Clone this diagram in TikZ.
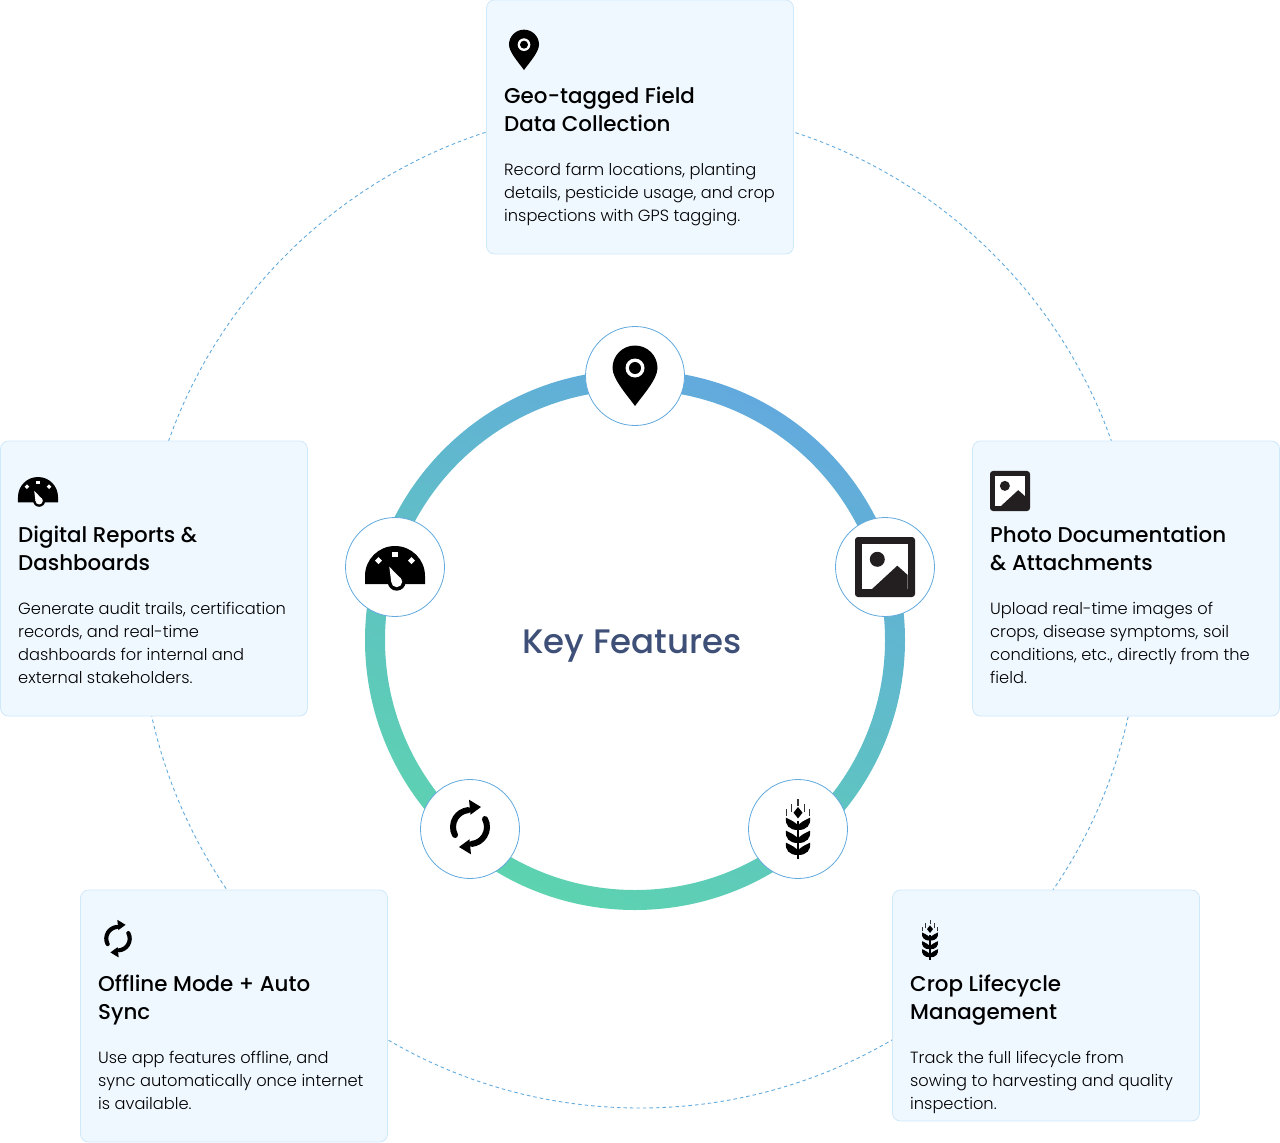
\documentclass[tikz,border=0pt]{standalone}
\usepackage{fontspec}
\setmainfont{Poppins Light}
\newfontfamily\headfont{Poppins Medium}
\usetikzlibrary{shadings}

\definecolor{ringblue}{HTML}{62AADD}
\definecolor{ringgreen}{HTML}{5DD3B0}
\definecolor{cardfill}{HTML}{F0F8FF}
\definecolor{cardline}{HTML}{CFE8FA}
\definecolor{keyblue}{HTML}{3E5078}
\definecolor{photoblack}{HTML}{231F20}

\tikzset{
  cardbox/.style={draw=cardline,fill=cardfill,line width=0.8pt,rounded corners=8pt,minimum width=307pt,outer sep=0pt,inner sep=0pt,anchor=north west},
  cardtitle/.style={font=\headfont\fontsize{21.4}{28}\selectfont,align=left,anchor=north west,inner sep=0pt,text=black},
  cardtext/.style={font=\fontsize{16.25}{23}\selectfont,align=left,anchor=north west,inner sep=0pt,text=black},
  iconring/.style={circle,draw=ringblue,fill=white,line width=0.8pt,minimum size=99pt,inner sep=0pt},
  pics/pinicon/.style={code={
    \fill[black] (0,-30) .. controls (-8,-19) and (-22.5,-3) .. (-22.5,8) arc[start angle=180,end angle=0,radius=22.5] .. controls (22.5,-3) and (8,-19) .. (0,-30) -- cycle;
    \fill[white] (0,8) circle (9.5);
    \fill[black] (0,8) circle (6);
  }},
  pics/gaugeicon/.style={code={
    \fill[black] (-30,-17) -- (-30,-9) arc[start angle=180,end angle=0,radius=30] -- (30,-17) -- cycle;
    \fill[black] (1.7,-14.7) circle (9);
    \fill[white] (1.7,-14.7) circle (5.5);
    \fill[white] (-5.7,0.3) -- (-3.8,-14.7) -- (6.7,-12.5) -- cycle;
    \fill[white] (-2.6,10.1) rectangle (2.6,15.3);
    \foreach \gx in {-16.5,16.5}
      \fill[white] (\gx,9.8) -- ++(3.4,-3.4) -- ++(-3.4,-3.4) -- ++(-3.4,3.4) -- cycle;
  }},
  pics/photoicon/.style={code={
    \fill[photoblack,rounded corners=3pt] (-30,-30) rectangle (30,30);
    \fill[white] (-22.7,-22.3) rectangle (22.7,22.7);
    \fill[photoblack] (-7.7,7.7) circle (7.5);
    \fill[photoblack] (-13.3,-22.3) -- (12.3,1.3) -- (22.7,-8) -- (22.7,-22.3) -- cycle;
  }},
  pics/wheaticon/.style={code={
    \draw[black,line width=#1*2.4] (0,-30) -- (0,8);
    \foreach \wy in {0,-13,-25} {
      \fill[black] (0,\wy-1) .. controls (9,\wy-1) and (13,\wy+4) .. (12,\wy+11.3) .. controls (7,\wy+9) and (1,\wy+6) .. (0,\wy+3) -- cycle;
      \fill[black] (0,\wy-1) .. controls (-9,\wy-1) and (-13,\wy+4) .. (-12,\wy+11.3) .. controls (-7,\wy+9) and (-1,\wy+6) .. (0,\wy+3) -- cycle;
    }
    \fill[black] (0,22) -- (4.5,16.3) -- (0,10.6) -- (-4.5,16.3) -- cycle;
    \draw[black!80,line width=#1*1.4] (0,23.5) -- (0,30) (6.3,17.3) -- (6.3,25) (-6.3,17.3) -- (-6.3,25) (11.3,13) -- (11.3,20) (-11.3,13) -- (-11.3,20);
  }},
  pics/syncicon/.style={code={
    \foreach \ang in {0,180} {
      \begin{scope}[rotate around={\ang:(0,2)}]
        \draw[black,line width=#1*6,line cap=round] (208:17) ++(0,2) arc[start angle=208,end angle=96,radius=17];
        \fill[black] (-1,29.3) -- (11,22) -- (0.5,14.3) -- cycle;
      \end{scope}
    }
  }},
}

\begin{document}
\begin{tikzpicture}[x=1pt,y=1pt]
\useasboundingbox (0,0) rectangle (1280,-1143);
% outer dashed circle
\coordinate (outercentre) at (640,-608);
\draw[ringblue,line width=0.9pt,dash pattern=on 3.5pt off 3pt] (outercentre) circle (500);
% gradient ring
\coordinate (ringcentre) at (635,-640);
\shade[even odd rule,top color=ringblue,bottom color=ringgreen,shading angle=-25] (ringcentre) circle (270) (ringcentre) circle (250);
\node[font=\headfont\fontsize{34}{40}\selectfont,text=keyblue,inner sep=0pt] (keytitle) at (632,-646) {Key Features};
% icon rings
\node[iconring] (pinring) at (635,-376) {};
\node[iconring] (gaugering) at (395,-567) {};
\node[iconring] (photoring) at (885,-567) {};
\node[iconring] (syncring) at (470,-829) {};
\node[iconring] (wheatring) at (798,-829) {};
\pic at (pinring) {pinicon};
\pic at (gaugering) {gaugeicon};
\pic at (photoring) {photoicon};
\pic at (syncring) {syncicon=1};
\pic at (wheatring) {wheaticon=1};
% cards
\node[cardbox,minimum height=254pt] (geocard) at (486.5,0) {};
\pic[scale=0.667] at (524,-50) {pinicon};
\node[cardtitle] (geotitle) at (504,-87) {Geo-tagged Field\\Data Collection};
\node[cardtext] (geotext) at (504,-162.5) {Record farm locations, planting\\details, pesticide usage, and crop\\inspections with GPS tagging.};

\node[cardbox,minimum height=275pt] (gaugecard) at (0.5,-441) {};
\pic[scale=0.667] at (38,-491) {gaugeicon};
\node[cardtitle] (gaugetitle) at (18,-526) {Digital Reports \&\\Dashboards};
\node[cardtext] (gaugetext) at (18,-601.5) {Generate audit trails, certification\\records, and real-time\\dashboards for internal and\\external stakeholders.};

\node[cardbox,minimum height=275pt] (photocard) at (972.5,-441) {};
\pic[scale=0.667] at (1010,-491) {photoicon};
\node[cardtitle] (phototitle) at (990,-526) {Photo Documentation\\\& Attachments};
\node[cardtext] (phototext) at (990,-601.5) {Upload real-time images of\\crops, disease symptoms, soil\\conditions, etc., directly from the\\field.};

\node[cardbox,minimum height=252pt] (synccard) at (80.5,-890) {};
\pic[scale=0.69] at (118,-940) {syncicon=0.69};
\node[cardtitle] (synctitle) at (98,-975) {Offline Mode + Auto\\Sync};
\node[cardtext] (synctext) at (98,-1050.5) {Use app features offline, and\\sync automatically once internet\\is available.};

\node[cardbox,minimum height=231pt] (wheatcard) at (892.5,-890) {};
\pic[scale=0.667] at (930,-940) {wheaticon=0.667};
\node[cardtitle] (wheattitle) at (910,-975) {Crop Lifecycle\\Management};
\node[cardtext] (wheattext) at (910,-1050.5) {Track the full lifecycle from\\sowing to harvesting and quality\\inspection.};
\end{tikzpicture}
\end{document}
